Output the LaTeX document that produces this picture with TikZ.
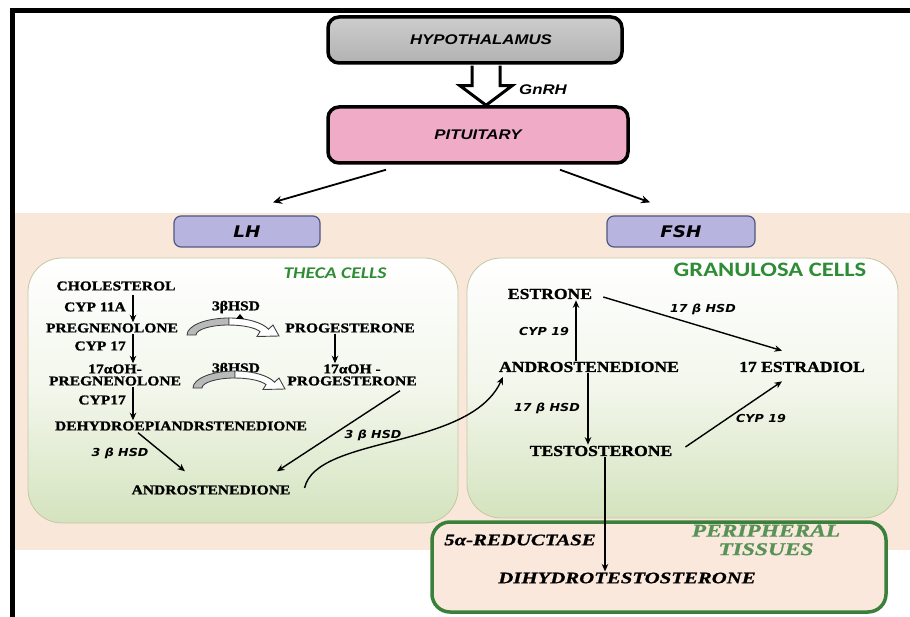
\documentclass[tikz,border=0pt]{standalone}
\usepackage{fontspec}
\usetikzlibrary{arrows.meta,calc}
\newfontfamily\chemf[FakeStretch=1.15,FakeBold=1.2]{Liberation Serif}
\newfontfamily\perf[FakeStretch=1.3,FakeBold=1]{Liberation Serif}
\newfontfamily\topf[FakeStretch=1.2]{Liberation Sans}
\newfontfamily\labf[FakeStretch=1.15]{DejaVu Sans}
\newfontfamily\cellf[FakeStretch=1.2]{Carlito}
\definecolor{beige}{RGB}{249,232,218}
\definecolor{panelgreen}{RGB}{212,227,190}
\definecolor{paneledge}{RGB}{196,198,165}
\definecolor{lav}{RGB}{184,180,224}
\definecolor{lavedge}{RGB}{78,88,128}
\definecolor{pinkbox}{RGB}{240,172,198}
\definecolor{graytop}{RGB}{205,205,205}
\definecolor{graybot}{RGB}{178,178,178}
\definecolor{celltext}{RGB}{46,140,52}
\definecolor{pgreen}{RGB}{58,128,58}
\definecolor{peach}{RGB}{250,232,220}
\tikzset{
  chem/.style={font=\chemf\bfseries\fontsize{13.5}{12}\selectfont, inner sep=1pt, align=center},
  chemb/.style={font=\chemf\bfseries\fontsize{15.3}{16}\selectfont, inner sep=1pt},
  enz/.style={font=\labf\bfseries\itshape\fontsize{11}{12}\selectfont, inner sep=1pt},
  perl/.style={font=\perf\bfseries\itshape\fontsize{16}{16}\selectfont, inner sep=1pt},
  arr/.style={line width=1.4pt, -{Stealth[length=7.5pt,width=6.5pt]}},
  toparr/.style={line width=1.8pt, -{Stealth[length=9pt,width=8pt]}},
  topbox/.style={draw=black, line width=3.5pt, rounded corners=11pt,
    font=\topf\bfseries\itshape\fontsize{14}{16}\selectfont},
  hbox/.style={draw=lavedge, line width=1.2pt, fill=lav, rounded corners=7pt,
    minimum width=146pt, minimum height=31pt,
    font=\labf\bfseries\itshape\fontsize{16}{18}\selectfont},
  panel/.style={draw=paneledge, line width=0.8pt, rounded corners=34pt,
    top color=white, bottom color=panelgreen, middle color=panelgreen!30!white},
  revarrow/.pic={
    \filldraw[fill=gray!55, draw=gray!45!black, line width=0.8pt]
      (-42,0) arc[start angle=180, end angle=270, x radius=42, y radius=17]
      -- (0,-10) arc[start angle=270, end angle=180, x radius=33, y radius=10] -- cycle;
    \filldraw[fill=white, draw=black!75, line width=0.9pt]
      (0,-17) arc[start angle=270, end angle=340, x radius=42, y radius=17]
      -- (44,-10) -- (50,1) -- (28,1.5) -- (31,-3.4)
      arc[start angle=340, end angle=270, x radius=33, y radius=10] -- cycle;
  }
}
\begin{document}
\begin{tikzpicture}[x=1pt,y=-1pt]
\useasboundingbox (0,0) rectangle (910,617);
\fill[white] (0,0) rectangle (910,617);
% beige band
\fill[beige] (15,213) rectangle (910,550);
% frame
\draw[line width=5pt, line join=miter] (12,617) -- (12,10.5) -- (910,10.5);

% top boxes
\node[topbox, top color=graytop, bottom color=graybot, minimum width=294pt, minimum height=46pt] (hyp) at (475,40) {\hspace*{12pt}HYPOTHALAMUS};
\node[topbox, fill=pinkbox, minimum width=300pt, minimum height=56pt] (pit) at (478,135) {PITUITARY};
% hollow arrow
\coordinate (ha) at ($(hyp.south)+(11,0)$);
\filldraw[fill=white, draw=black, line width=3pt, line join=miter]
  ($(ha)+(-14,1)$) -- ($(ha)+(-14,21)$) -- ($(ha)+(-26,21)$) -- (pit.north -| ha)
  -- ($(ha)+(26,21)$) -- ($(ha)+(14,21)$) -- ($(ha)+(14,1)$);
\node[font=\topf\bfseries\itshape\fontsize{14}{16}\selectfont, inner sep=1pt] (gnrh) at (543,90) {GnRH};

% LH / FSH
\node[hbox] (LH) at (247,231.5) {LH};
\node[hbox, minimum width=148pt] (FSH) at (681,231.5) {FSH};
\draw[toparr] ($(pit.south)+(-92,5)$) -- ($(LH.north)+(26,-13)$);
\draw[toparr] ($(pit.south)+(82,5)$) -- ($(FSH.north)+(-31,-13)$);

% panels
\path[panel] (28,258) rectangle (458,523);
\path[panel] (467,258) rectangle (898,518);
\node[font=\cellf\bfseries\itshape\fontsize{16.3}{18}\selectfont, text=celltext, inner sep=1pt] (theca) at (335,273) {THECA CELLS};
\node[font=\cellf\bfseries\fontsize{20.5}{22}\selectfont, text=celltext, inner sep=1pt] (gran) at (770,270) {GRANULOSA CELLS};

% peripheral box
\node[draw=pgreen, line width=3.5pt, fill=peach, rounded corners=18pt,
      minimum width=454pt, minimum height=90pt] (periph) at (659,567) {};

% theca contents
\node[chem] (chol) at (116,286) {CHOLESTEROL};
\node[chem, anchor=east] (cypA) at (127,307) {CYP 11A};
\node[chem] (preg) at (112,328) {PREGNENOLONE};
\node[chem, anchor=east] (cypB) at (127,346) {CYP 17};
\node[chem] (ohpreg) at (115,375) {17αOH-\\PREGNENOLONE};
\node[chem, anchor=east] (cypC) at (127,400) {CYP17};
\node[chem] (dhea) at (181,426) {DEHYDROEPIANDRSTENEDIONE};
\node[chem] (hsdA) at (236,307) {3βHSD};
\node[chem] (prog) at (350,328) {PROGESTERONE};
\node[chem] (hsdB) at (236,369) {3βHSD};
\node[chem] (ohprog) at (352,375) {17αOH -\\PROGESTERONE};
\node[enz] (hsdC) at (120,453) {3 β HSD};
\node[enz] (hsdD) at (373,435) {3 β HSD};
\node[chem] (andA) at (211,490) {ANDROSTENEDIONE};

\pic at (229,335) {revarrow};
\fill[black] (236,319) -- (244,319) -- (240,314) -- cycle;
\pic at (235,388) {revarrow};

\coordinate (xa) at (133,0);
\draw[arr] (chol.south -| xa) ++(0,3) -- (preg.north -| xa);
\draw[arr] (preg.south -| xa) -- (ohpreg.north -| xa);
\draw[arr] (ohpreg.south -| xa) -- (dhea.north -| xa);
\coordinate (xb) at (335,0);
\draw[arr] (prog.south -| xb) -- (ohprog.north -| xb);
\draw[arr] ($(dhea.south)+(-43,1)$) -- ($(andA.north)+(-26,-13)$);
\draw[arr] ($(ohprog.south)+(48,4)$) -- ($(andA.north)+(66,-13)$);

% granulosa contents
\node[chemb] (estrone) at (550,294) {ESTRONE};
\node[chemb] (andB) at (589,367) {ANDROSTENEDIONE};
\node[chemb] (estradiol) at (802,367) {17 ESTRADIOL};
\node[chemb] (testo) at (601,451) {TESTOSTERONE};
\node[enz] (cyp19a) at (544,332) {CYP 19};
\node[enz] (hsdE) at (703,309) {17 β HSD};
\node[enz] (hsdF) at (547,408) {17 β HSD};
\node[enz] (cyp19b) at (761,419) {CYP 19};

\coordinate (xc) at (576,0);
\draw[arr] (andB.north -| xc) -- (estrone.south -| xc);
\draw[arr] ($(estrone.east)+(10,3)$) -- ($(estradiol.north)+(-20,-10)$);
\coordinate (xd) at (588,0);
\draw[arr] (andB.south -| xd) -- (testo.north -| xd);
\draw[arr] ($(testo.east)+(12,-4)$) -- ($(estradiol.south)+(-20,8)$);

% curved theca -> granulosa
\draw[arr] ($(andA.east)+(13,-2)$) .. controls +(12,-53) and +(-33,73) .. ($(andB.west)+(5,10)$);

% peripheral contents
\node[perl] (red) at (520,540) {5α-REDUCTASE};
\node[perl, text=pgreen!85!white, align=center, font=\perf\bfseries\itshape\fontsize{18}{18.5}\selectfont] (ptis) at (766,540) {PERIPHERAL\\TISSUES};
\node[perl] (dht) at (627,578) {DIHYDROTESTOSTERONE};
\coordinate (xe) at (605,0);
\draw[arr] (testo.south -| xe) -- (dht.north -| xe);
\end{tikzpicture}
\end{document}
